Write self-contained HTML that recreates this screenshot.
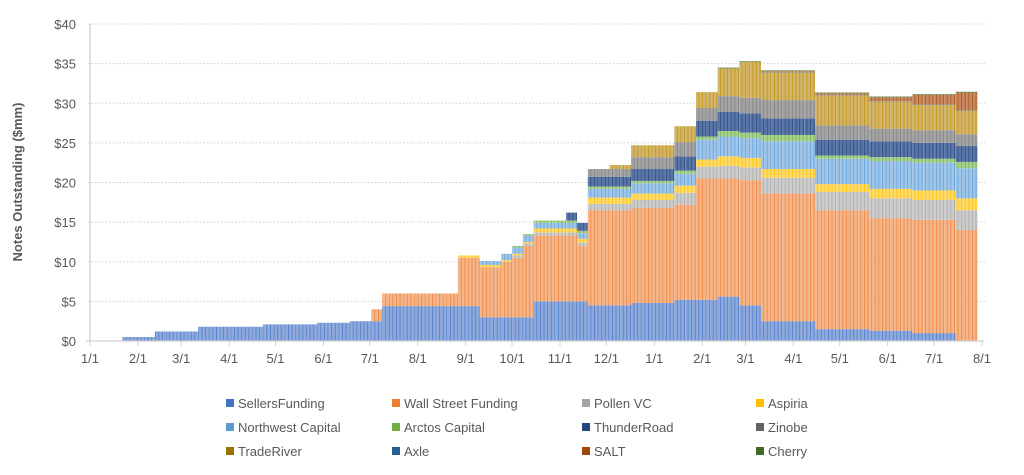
<!DOCTYPE html>
<html><head><meta charset="utf-8"><style>
body{margin:0;background:#fff;font-family:"Liberation Sans",sans-serif}
svg text{font-family:"Liberation Sans",sans-serif;fill:#595959}
</style></head><body>
<svg id="chart" width="1024" height="470" viewBox="0 0 1024 470" xmlns="http://www.w3.org/2000/svg">
<defs id="defs"></defs>
<g id="grid"></g><g id="bars"></g><g id="axes"></g><g id="legend"></g>
</svg>
<script>
// Run-length encoded weekly values: [value, weeks]
const seriesNames=["SellersFunding","Wall Street Funding","Pollen VC","Aspiria","Northwest Capital","Arctos Capital","ThunderRoad","Zinobe","TradeRiver","Axle","SALT","Cherry"];
const sellersFunding=[[0,3],[0.5,3],[1.2,4],[1.8,6],[2.1,5],[2.3,3],[2.5,3],[4.4,9],[3.0,5],[5.0,5],[4.5,4],[4.8,4],[5.2,4],[5.6,2],[4.5,2],[2.5,5],[1.5,5],[1.3,4],[1.0,4],[0,2]];
const wallStreet=[[0,26],[1.5,1],[1.6,7],[6.1,2],[6.3,2],[7.0,1],[7.5,1],[9.0,1],[8.3,4],[7.0,1],[12.0,10],[15.3,2],[14.9,2],[15.8,2],[16.1,5],[15.0,5],[14.2,4],[14.3,4],[14.0,2]];
const pollenVC=[[0,39],[0.3,2],[0.4,5],[0.8,4],[1.0,4],[1.5,4],[1.6,4],[2.0,5],[2.3,5],[2.5,10]];
const aspiria=[[0,34],[0.3,4],[0.2,3],[0.5,5],[0.8,8],[0.9,4],[1.2,4],[1.1,5],[1.0,5],[1.2,8],[1.5,2]];
const northwest=[[0,36],[0.5,2],[0.8,3],[0.7,5],[1.1,4],[1.3,4],[1.5,2],[2.5,6],[3.5,5],[3.2,5],[3.5,8],[3.8,2]];
const arctos=[[0,39],[0.2,2],[0.3,13],[0.4,4],[0.7,4],[0.8,5],[0.4,5],[0.5,8],[0.8,2]];
const thunderRoad=[[0,44],[1.0,2],[1.2,4],[1.5,4],[1.8,2],[2.0,2],[2.4,4],[2.1,5],[2.0,15]];
const zinobe=[[0,46],[1.0,4],[1.5,4],[1.8,2],[1.6,2],[2.0,4],[2.3,5],[1.8,5],[1.6,8],[1.5,2]];
const tradeRiver=[[0,48],[0.5,2],[1.5,4],[2.0,2],[2.0,2],[3.5,2],[4.5,2],[3.5,5],[3.8,5],[3.4,4],[3.2,4],[3.0,2]];
const axle=[[0,62],[0.05,20]];
const salt=[[0,62],[0.1,5],[0.2,5],[0.5,4],[1.2,4],[2.2,2]];
const cherry=[[0,58],[0.1,24]];
const yTicks=["$0","$5","$10","$15","$20","$25","$30","$35","$40"];
const xTickLabels=["1/1","2/1","3/1","4/1","5/1","6/1","7/1","8/1","9/1","10/1","11/1","12/1","1/1","2/1","3/1","4/1","5/1","6/1","7/1","8/1"];
const monthDays=[0,31,59,90,120,151,181,212,243,273,304,334,365,396,424,455,485,516,546,577];

const fills=["#8eaadc","#f5b58a","#cccccc","#ffd966","#9fc5e8","#a9d18e","#5a76a8","#a3a3a3","#d2b46a","#5a86b5","#c98a62","#6f8f58"];
const darks=["#4472c4","#ed7d31","#a5a5a5","#ffc000","#5b9bd5","#70ad47","#264478","#7f7f7f","#bf9000","#255e91","#9e480e","#43682b"];
const legendColors=["#4472c4","#ed7d31","#a5a5a5","#ffc000","#5b9bd5","#70ad47","#264478","#636363","#997300","#255e91","#9e480e","#43682b"];
const allSeries=[sellersFunding,wallStreet,pollenVC,aspiria,northwest,arctos,thunderRoad,zinobe,tradeRiver,axle,salt,cherry];

const NS="http://www.w3.org/2000/svg";
const X0=90,X1=982,Y0=341,Y1=24,DMAX=577,VMAX=40;
const xs=d=>X0+(X1-X0)*d/DMAX;
const ys=v=>Y0-(Y0-Y1)*v/VMAX;
function mk(tag,attrs,parent){const e=document.createElementNS(NS,tag);for(const k in attrs)e.setAttribute(k,attrs[k]);parent.appendChild(e);return e;}
function expand(rle){const out=[];rle.forEach(([v,n])=>{for(let i=0;i<n;i++)out.push(v);});return out;}

const defs=document.getElementById('defs');
fills.forEach((f,i)=>{
  const p=mk('pattern',{id:'p'+i,patternUnits:'userSpaceOnUse',width:3.6,height:10},defs);
  mk('rect',{x:0,y:0,width:3.6,height:10,fill:f},p);
  mk('rect',{x:0,y:0,width:0.9,height:10,fill:darks[i],opacity:0.75},p);
});

const grid=document.getElementById('grid');
yTicks.forEach((t,i)=>{
  const y=ys(i*5);
  if(i>0){const l=mk('line',{x1:X0-2,x2:X1+3,y1:y,y2:y,stroke:'#d0d0d0','stroke-dasharray':'1.5,2'},grid);
  
  }
  const tx=mk('text',{x:76,y:y+5,'text-anchor':'end','font-size':13},grid);
  tx.textContent=t;
  
  
});

const bars=document.getElementById('bars');
const data=allSeries.map(expand);
const nW=data[0].length;
for(let w=0;w<nW;w++){
  let cum=0;
  const x=xs(w*7), wd=xs((w+1)*7)-x;
  data.forEach((s,si)=>{
    const v=s[w]||0; if(v<=0)return;
    const yTop=ys(cum+v), yBot=ys(cum);
    const r=mk('rect',{x:x,y:yTop,width:wd,height:yBot-yTop,fill:'url(#p'+si+')'},bars);
    
    
    cum+=v;
  });
}

const axes=document.getElementById('axes');
const ya=mk('line',{x1:X0,x2:X0,y1:Y1,y2:Y0,stroke:'#d0d0d0','stroke-width':1.3},axes);


const xa=mk('line',{x1:X0-4,x2:X1+2,y1:Y0,y2:Y0,stroke:'#d0d0d0','stroke-width':1.3},axes);


monthDays.forEach((d,i)=>{
  const x=xs(d);
  mk('line',{x1:x,x2:x,y1:Y0,y2:Y0+5,stroke:'#d0d0d0'},axes);
  const t=mk('text',{x:x,y:Y0+22,'text-anchor':'middle','font-size':13},axes);
  t.textContent=xTickLabels[i];
  
  
});
const title=mk('text',{x:0,y:0,'text-anchor':'middle','font-size':13,'font-weight':'bold',transform:'translate(22,182) rotate(-90)'},axes);
title.textContent="Notes Outstanding ($mm)";



const legend=document.getElementById('legend');
const colX=[226,392,582,756], rowY=[403,427,451];
seriesNames.forEach((n,i)=>{
  const g=mk('g',{},legend);
  
  
  const x=colX[i%4], y=rowY[Math.floor(i/4)];
  mk('rect',{x:x,y:y-4,width:8,height:8,fill:legendColors[i]},g);
  const t=mk('text',{x:x+12,y:y+5,'font-size':13},g);
  t.textContent=n;
});
</script>
</body></html>
